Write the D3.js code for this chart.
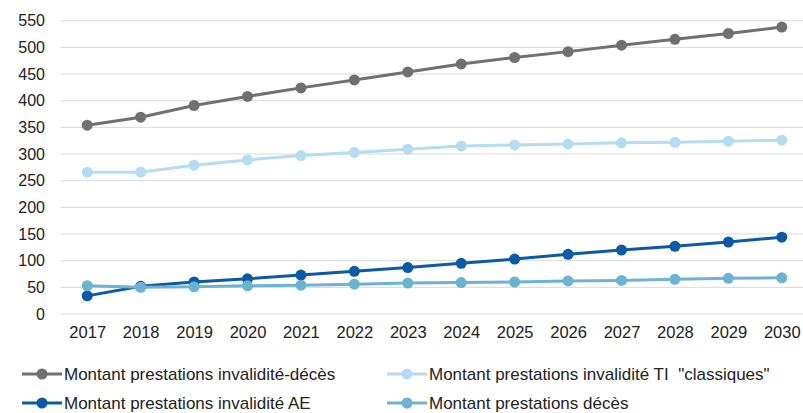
<!DOCTYPE html>
<html>
<head>
<meta charset="utf-8">
<script src="https://cdn.jsdelivr.net/npm/d3@7"></script>
<style>
  body { margin: 0; background: #fff; }
  text { font-family: "Liberation Sans", Arial, sans-serif; fill: #222; }
</style>
</head>
<body>
<svg width="803" height="413"></svg>
<script>
const years = ['2017', '2018', '2019', '2020', '2021', '2022', '2023', '2024', '2025', '2026', '2027', '2028', '2029', '2030']
const yTicks = [0, 50, 100, 150, 200, 250, 300, 350, 400, 450, 500, 550]

const invaliditeDeces = [354, 369, 391, 408, 424, 439, 454, 469, 481, 492, 504, 515, 526, 538]
const invaliditeTI = [266, 266, 279, 289, 297, 303, 309, 315, 317, 319, 321, 322, 324, 326]
const invaliditeAE = [34, 52, 60, 66, 73, 80, 87, 95, 103, 112, 120, 127, 135, 144]
const deces = [53, 50, 51, 53, 54, 56, 58, 59, 60, 62, 63, 65, 67, 68]

const seriesNames = [
  'Montant prestations invalidité-décès',
  'Montant prestations invalidité TI  "classiques"',
  'Montant prestations invalidité AE',
  'Montant prestations décès'
]

const gray = '#707070',
  lightBlue = '#b4dcf2',
  darkBlue = '#0b5aa7',
  midBlue = '#6cb3d3'

const series = [
  { name: seriesNames[0], values: invaliditeDeces, color: gray },
  { name: seriesNames[1], values: invaliditeTI, color: lightBlue },
  { name: seriesNames[2], values: invaliditeAE, color: darkBlue },
  { name: seriesNames[3], values: deces, color: midBlue }
]

const svg = d3.select('svg')

let xPixelMin = 60.5
let xPixelMax = 808.5
let yPixelMin = 20.7
let yPixelMax = 314

// Scales
let xScale = d3.scalePoint().domain(years).range([xPixelMin, xPixelMax]).padding(0.5)
let yScale = d3.scaleLinear().domain([0, 550]).range([yPixelMax, yPixelMin])

// Gridlines
svg.append('g')
  .selectAll('line')
  .data(yTicks)
  .enter()
  .append('line')
  .attr('x1', xPixelMin)
  .attr('x2', xPixelMax)
  .attr('y1', (d) => yScale(d))
  .attr('y2', (d) => yScale(d))
  .attr('stroke', '#d9d9d9')
  .attr('stroke-width', 1)

// Axes
let yAxis = d3.axisLeft(yScale).tickValues(yTicks).tickSize(0).tickPadding(0)
svg.append('g')
  .attr('transform', 'translate(45, 0)')
  .call(yAxis)
  .call((g) => g.select('.domain').remove())
  .selectAll('text')
  .style('font-size', '16px')
  .style('font-family', '"Liberation Sans", Arial, sans-serif')
  .attr('fill', '#222')

let xAxis = d3.axisBottom(xScale).tickSize(0).tickPadding(0)
svg.append('g')
  .attr('transform', 'translate(0, 326)')
  .call(xAxis)
  .call((g) => g.select('.domain').remove())
  .selectAll('text')
  .style('font-size', '16.5px')
  .style('font-family', '"Liberation Sans", Arial, sans-serif')
  .attr('fill', '#222')

// Lines and markers
let line = d3.line()
  .x((d, i) => xScale(years[i]))
  .y((d) => yScale(d))

series.forEach((s) => {
  svg.append('path')
    .attr('d', line(s.values))
    .attr('fill', 'none')
    .attr('stroke', s.color)
    .attr('stroke-width', 3)

  svg.append('g')
    .selectAll('circle')
    .data(s.values)
    .enter()
    .append('circle')
    .attr('cx', (d, i) => xScale(years[i]))
    .attr('cy', (d) => yScale(d))
    .attr('r', 5.5)
    .attr('fill', s.color)
})

// Legend
const legendPos = [
  { x: 22, y: 374 },
  { x: 387, y: 374 },
  { x: 22, y: 403 },
  { x: 387, y: 403 }
]

series.forEach((s, i) => {
  let g = svg.append('g').attr('transform', `translate(${legendPos[i].x}, ${legendPos[i].y})`)
  g.append('line')
    .attr('x1', 0).attr('x2', 40)
    .attr('y1', 0).attr('y2', 0)
    .attr('stroke', s.color)
    .attr('stroke-width', 3)
  g.append('circle')
    .attr('cx', 20).attr('cy', 0)
    .attr('r', 5.5)
    .attr('fill', s.color)
  g.append('text')
    .attr('x', 42)
    .attr('y', 0)
    .attr('dy', '0.35em')
    .style('font-size', '17px')
    .style('white-space', 'pre')
    .attr('xml:space', 'preserve')
    .text(s.name)
})
</script>
</body>
</html>
